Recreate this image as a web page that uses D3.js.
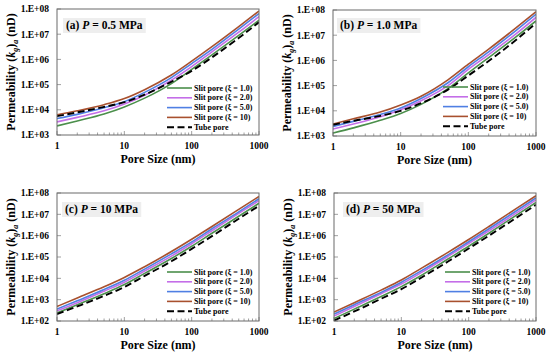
<!DOCTYPE html>
<html><head><meta charset="utf-8">
<script src="https://cdn.jsdelivr.net/npm/d3@7"></script>
<style>
body{margin:0;background:#fff}
svg{display:block}
text{font-family:"Liberation Serif","Times New Roman",serif;font-weight:bold;fill:#000}
</style>
</head><body>
<svg id="chart" width="550" height="354"></svg>
<script>
// ---------- DATA ----------
const poreSize = [1, 2, 5, 10, 20, 50, 100, 200, 500, 1000];
const seriesNames = ["Slit pore (\u03BE = 1.0)", "Slit pore (\u03BE = 2.0)", "Slit pore (\u03BE = 5.0)", "Slit pore (\u03BE = 10)", "Tube pore"];
const panelLetters = ["(a)", "(b)", "(c)", "(d)"];
const panelPressures = ["0.5 MPa", "1.0 MPa", "10 MPa", "50 MPa"];
const xTicks = [1, 10, 100, 1000];
const yTicksAB = [1e3, 1e4, 1e5, 1e6, 1e7, 1e8];
const yTicksCD = [1e2, 1e3, 1e4, 1e5, 1e6, 1e7, 1e8];

// (a) P = 0.5 MPa
const a_xi1  = [2.3e3, 3.6e3, 6.8e3, 1.3e4, 2.9e4, 1.1e5, 4.0e5, 1.5e6, 8.9e6, 3.6e7];
const a_xi2  = [3.3e3, 5.0e3, 9.1e3, 1.7e4, 3.8e4, 1.5e5, 5.2e5, 2.0e6, 1.2e7, 5.0e7];
const a_xi5  = [4.5e3, 6.6e3, 1.2e4, 2.1e4, 4.9e4, 1.9e5, 6.8e5, 2.5e6, 1.6e7, 6.6e7];
const a_xi10 = [6.3e3, 9.1e3, 1.6e4, 2.8e4, 6.3e4, 2.4e5, 8.5e5, 3.2e6, 2.0e7, 8.3e7];
const a_tube = [5.6e3, 7.9e3, 1.3e4, 2.0e4, 4.0e4, 1.3e5, 3.5e5, 1.2e6, 7.1e6, 3.0e7];
// (b) P = 1.0 MPa
const b_xi1  = [1.3e3, 2.1e3, 4.2e3, 7.8e3, 1.8e4, 7.6e4, 3.2e5, 1.3e6, 8.3e6, 3.7e7];
const b_xi2  = [1.9e3, 3.0e3, 5.8e3, 1.1e4, 2.5e4, 1.0e5, 4.4e5, 1.7e6, 1.1e7, 5.1e7];
const b_xi5  = [2.4e3, 3.8e3, 7.2e3, 1.3e4, 3.1e4, 1.3e5, 5.6e5, 2.2e6, 1.5e7, 6.8e7];
const b_xi10 = [3.0e3, 4.8e3, 8.9e3, 1.7e4, 3.8e4, 1.7e5, 7.1e5, 2.8e6, 1.9e7, 8.5e7];
const b_tube = [2.8e3, 4.0e3, 6.3e3, 1.0e4, 2.0e4, 6.9e4, 2.5e5, 9.5e5, 6.3e6, 3.0e7];
// (c) P = 10 MPa
const c_xi1  = [2.4e2, 5.8e2, 1.9e3, 5.1e3, 1.7e4, 8.5e4, 3.2e5, 1.3e6, 8.1e6, 3.3e7];
const c_xi2  = [3.0e2, 7.2e2, 2.5e3, 6.6e3, 2.2e4, 1.1e5, 4.2e5, 1.7e6, 1.1e7, 4.4e7];
const c_xi5  = [3.6e2, 8.9e2, 3.0e3, 8.1e3, 2.7e4, 1.4e5, 5.1e5, 2.1e6, 1.3e7, 5.4e7];
const c_xi10 = [4.8e2, 1.2e3, 4.0e3, 1.1e4, 3.5e4, 1.8e5, 6.8e5, 2.7e6, 1.7e7, 6.9e7];
const c_tube = [2.1e2, 4.8e2, 1.5e3, 3.9e3, 1.3e4, 6.3e4, 2.4e5, 9.5e5, 6.2e6, 2.5e7];
// (d) P = 50 MPa
const d_xi1  = [1.3e2, 3.6e2, 1.4e3, 4.1e3, 1.4e4, 8.3e4, 3.2e5, 1.3e6, 8.7e6, 3.6e7];
const d_xi2  = [1.7e2, 4.8e2, 1.9e3, 5.4e3, 1.9e4, 1.1e5, 4.3e5, 1.7e6, 1.1e7, 4.8e7];
const d_xi5  = [2.1e2, 5.8e2, 2.2e3, 6.6e3, 2.3e4, 1.3e5, 5.2e5, 2.1e6, 1.4e7, 5.9e7];
const d_xi10 = [2.6e2, 7.2e2, 2.8e3, 8.3e3, 3.0e4, 1.7e5, 6.6e5, 2.7e6, 1.8e7, 7.4e7];
const d_tube = [1.05e2, 2.8e2, 1.1e3, 3.1e3, 1.1e4, 6.3e4, 2.5e5, 1.0e6, 6.6e6, 2.8e7];

// ---------- LAYOUT / STYLE ----------
const colors = ["#4b8f4b", "#c46ee8", "#4f7fe3", "#a8502e", "#000000"];
const widths = [1.6, 1.6, 1.6, 1.6, 1.9];
const panels = [
  {x0:57,  x1:259, y0:9,   y1:135, ticks:yTicksAB, series:[a_xi1,a_xi2,a_xi5,a_xi10,a_tube], tx:66,  ty:29,  lx:167, ly:88},
  {x0:333, x1:536, y0:10,  y1:136, ticks:yTicksAB, series:[b_xi1,b_xi2,b_xi5,b_xi10,b_tube], tx:340, ty:29,  lx:443, ly:87},
  {x0:57,  x1:259, y0:193, y1:321, ticks:yTicksCD, series:[c_xi1,c_xi2,c_xi5,c_xi10,c_tube], tx:65,  ty:213, lx:167, ly:272},
  {x0:334, x1:536, y0:193, y1:321, ticks:yTicksCD, series:[d_xi1,d_xi2,d_xi5,d_xi10,d_tube], tx:346, ty:213, lx:445, ly:272}
];

const svg = d3.select("#chart");

function fmtE(v){ const e = Math.round(Math.log10(v)); return "1.E+" + (e < 10 ? "0" + e : e); }

panels.forEach((p, i) => {
  const x = d3.scaleLog().domain([1, 1000]).range([p.x0, p.x1]);
  const y = d3.scaleLog().domain([p.ticks[0], p.ticks[p.ticks.length-1]]).range([p.y1, p.y0]);
  const g = svg.append("g");

  // clip
  const cid = "clip" + i;
  svg.append("clipPath").attr("id", cid).append("rect")
    .attr("x", p.x0).attr("y", p.y0).attr("width", p.x1 - p.x0).attr("height", p.y1 - p.y0);

  // x minor + major ticks (inside)
  const xt = [];
  for (let k = 1; k < 1000; k *= 10) for (let m = 1; m < 10; m++) xt.push(k * m);
  xt.push(1000);
  g.selectAll(".xt").data(xt).enter().append("line")
    .attr("x1", d => x(d)).attr("x2", d => x(d))
    .attr("y1", p.y1).attr("y2", d => p.y1 - (xTicks.includes(d) ? 4 : 2.5))
    .attr("stroke", "#777").attr("stroke-width", 0.7);
  // y ticks
  g.selectAll(".yt").data(p.ticks).enter().append("line")
    .attr("x1", p.x0).attr("x2", p.x0 + 4)
    .attr("y1", d => y(d)).attr("y2", d => y(d))
    .attr("stroke", "#777").attr("stroke-width", 0.7);

  // series lines
  const line = d3.line().x((d, j) => x(poreSize[j])).y(d => y(d)).curve(d3.curveMonotoneX);
  const lg = g.append("g").attr("clip-path", "url(#" + cid + ")");
  p.series.forEach((s, k) => {
    lg.append("path").datum(s).attr("d", line).attr("fill", "none")
      .attr("stroke", colors[k]).attr("stroke-width", widths[k])
      .attr("stroke-dasharray", k === 4 ? "7,3.5" : null);
  });

  // frame
  g.append("rect").attr("x", p.x0).attr("y", p.y0).attr("width", p.x1 - p.x0).attr("height", p.y1 - p.y0)
    .attr("fill", "none").attr("stroke", "#6b6b6b").attr("stroke-width", 1);

  // y tick labels
  g.selectAll(".yl").data(p.ticks).enter().append("text")
    .attr("x", p.x0 - 8).attr("y", d => y(d)).attr("dy", "0.35em")
    .attr("text-anchor", "end").attr("font-size", 9.5).text(fmtE);
  // x tick labels
  g.selectAll(".xl").data(xTicks).enter().append("text")
    .attr("x", d => x(d)).attr("y", p.y1 + 14)
    .attr("text-anchor", "middle").attr("font-size", 9.5).text(d => d);

  // axis titles
  g.append("text").attr("x", (p.x0 + p.x1) / 2).attr("y", p.y1 + 28)
    .attr("text-anchor", "middle").attr("font-size", 12).text("Pore Size (nm)");
  const yl = g.append("text").attr("text-anchor", "middle").attr("font-size", 12)
    .attr("transform", `translate(${p.x0 - 42},${(p.y0 + p.y1) / 2}) rotate(-90)`);
  yl.append("tspan").text("Permeability (");
  yl.append("tspan").attr("font-style", "italic").text("k");
  yl.append("tspan").attr("font-style", "italic").attr("font-size", 8).attr("dy", 3).text("g");
  yl.append("tspan").attr("dy", -3).text(")");
  yl.append("tspan").attr("font-style", "italic").attr("font-size", 8).attr("dy", 3).text("a");
  yl.append("tspan").attr("dy", -3).text(" (nD)");

  // panel title with box
  const tg = g.append("g");
  const bx = tg.append("rect").attr("fill", "#eeeeee");
  const tt = tg.append("text").attr("x", p.tx).attr("y", p.ty).attr("font-size", 11.5);
  tt.append("tspan").text(panelLetters[i] + " ");
  tt.append("tspan").attr("font-style", "italic").text("P");
  tt.append("tspan").text(" = " + panelPressures[i]);
  const bb = tt.node().getBBox();
  bx.attr("x", bb.x - 3).attr("y", bb.y - 1).attr("width", bb.width + 6).attr("height", bb.height + 2);

  // legend
  const leg = g.append("g");
  seriesNames.forEach((n, k) => {
    const yy = p.ly + k * 9.8;
    leg.append("line").attr("x1", p.lx).attr("x2", p.lx + 25).attr("y1", yy).attr("y2", yy)
      .attr("stroke", colors[k]).attr("stroke-width", widths[k])
      .attr("stroke-dasharray", k === 4 ? "7,3.5" : null);
    leg.append("text").attr("x", p.lx + 27).attr("y", yy).attr("dy", "0.33em")
      .attr("font-size", 8).text(n);
  });
});
</script>
</body></html>
